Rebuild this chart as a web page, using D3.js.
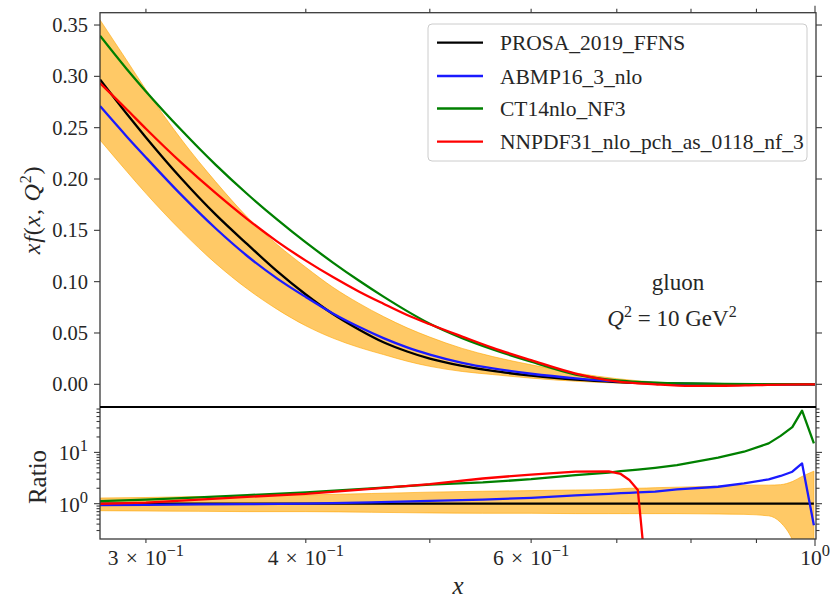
<!DOCTYPE html>
<html><head><meta charset="utf-8">
<script src="https://cdn.jsdelivr.net/npm/d3@7"></script>
<style>
body{margin:0;background:#fff}
text{font-family:"Liberation Serif","Times New Roman",serif;fill:#262626}
</style>
</head><body>
<svg id="c" width="836" height="601"></svg>
<script>
// ---------------- data ----------------
const xTop = [0.2762,0.29,0.30,0.32,0.34,0.36,0.38,0.40,0.42,0.44,0.46,0.48,0.50,0.53,0.56,0.60,0.65,0.70,0.75,0.80,0.85,0.90,0.95,1.0];
const prosa   = [0.297,0.263,0.2405,0.200,0.1655,0.1365,0.110,0.0875,0.0685,0.0535,0.041,0.032,0.025,0.018,0.013,0.0085,0.0045,0.0022,0.0009,0.0003,0.0001,0,0,0];
const prosaHi = [0.355,0.315,0.287,0.238,0.1975,0.163,0.136,0.114,0.0945,0.079,0.066,0.055,0.046,0.035,0.027,0.019,0.011,0.0055,0.0022,0.0008,0.0003,0.0001,0,0];
const prosaLo = [0.238,0.207,0.186,0.149,0.118,0.093,0.073,0.057,0.045,0.036,0.029,0.0225,0.0175,0.0125,0.0095,0.006,0.003,0.0012,0.0004,0.0001,0,0,0,0];
const abmp    = [0.271,0.241,0.221,0.184,0.152,0.125,0.103,0.085,0.069,0.056,0.045,0.036,0.029,0.021,0.0155,0.0103,0.0058,0.0028,0.0012,0.0005,0.0002,0.0001,0,0];
const ct14    = [0.3396,0.3067,0.2853,0.2472,0.2140,0.1854,0.1604,0.1382,0.1186,0.1011,0.0854,0.0713,0.059,0.045,0.034,0.022,0.0095,0.0038,0.0016,0.0008,0.0004,0.0002,0.0001,0];
const nnpdf   = [0.2935,0.2675,0.249,0.2155,0.1865,0.161,0.139,0.1205,0.1045,0.0905,0.0785,0.0675,0.0585,0.0465,0.0355,0.0235,0.0105,0.0028,0.0,-0.0015,-0.0014,-0.0008,-0.0003,0];

const xRatio = [0.2762,0.30,0.33,0.36,0.40,0.45,0.50,0.55,0.60,0.65,0.69,0.705,0.716,0.727,0.75,0.78,0.84,0.88,0.92,0.94,0.96,0.977,0.998];
const ratioProsa = [1,1,1,1,1,1,1,1,1,1,1,1,1,1,1,1,1,1,1,1,1,1,1];
const ratioHi = [1.29,1.32,1.38,1.42,1.48,1.58,1.68,1.75,1.8,1.85,1.9,1.95,2.0,2.0,2.05,2.1,2.2,2.3,2.3,2.35,2.7,3.4,4.3];
const ratioLo = [0.73,0.72,0.71,0.70,0.70,0.68,0.66,0.65,0.65,0.64,0.64,0.64,0.64,0.64,0.64,0.64,0.63,0.62,0.58,0.43,0.2,0.06,0.03];
const ratioAbmp = [0.94,0.95,0.97,0.98,1.0,1.06,1.13,1.2,1.3,1.45,1.55,1.6,1.63,1.66,1.72,1.9,2.14,2.5,2.99,3.47,4.2,6.1,0.38];
const ratioCt14 = [1.12,1.2,1.33,1.47,1.66,1.98,2.35,2.6,3.0,3.6,4.05,4.3,4.45,4.6,5.0,5.66,7.9,10.3,15,21,31,65,15];
const ratioNnpdf = [0.99,1.05,1.2,1.36,1.55,1.95,2.4,3.1,3.7,4.2,4.25,3.8,2.9,1.85,0.0006,null,null,null,null,null,null,null,null];

const seriesNames = ["PROSA_2019_FFNS","ABMP16_3_nlo","CT14nlo_NF3","NNPDF31_nlo_pch_as_0118_nf_3"];
const seriesColors = ["#000000","#1a1aff","#008000","#ff0000"];
const yTopTicks = [0,0.05,0.10,0.15,0.20,0.25,0.30,0.35];
const xLabelled = [{v:0.3,b:"3\u2004×\u200410",e:"−1"},{v:0.4,b:"4\u2004×\u200410",e:"−1"},{v:0.6,b:"6\u2004×\u200410",e:"−1"},{v:1,b:"10",e:"0"}];
const xMinorTicks = [0.3,0.4,0.5,0.6,0.7,0.8,0.9];
const xMajorTicks = [1];
const ratioMajor = [{v:1,e:"0"},{v:10,e:"1"}];
const ratioMinor = [0.3,0.4,0.5,0.6,0.7,0.8,0.9,2,3,4,5,6,7,8,9,20,30,40,50,60,70];

// ---------------- layout ----------------
const L=100,R=816,T=12.7,MID=407,B=539;
const svg=d3.select("#c");
const x=d3.scaleLog().domain([0.2762,1.0018]).range([L,R]);
const yTop=d3.scaleLinear().domain([-0.0221,0.362]).range([MID,T]);
const yRat=d3.scaleLog().domain([0.205,76.7]).range([B,MID]);
const axisCol="#3a3a3a";

const defs=svg.append("defs");
defs.append("clipPath").attr("id","cTop").append("rect").attr("x",L).attr("y",T).attr("width",R-L).attr("height",MID-T);
defs.append("clipPath").attr("id","cBot").append("rect").attr("x",L).attr("y",MID).attr("width",R-L).attr("height",B-MID);

// ---------------- top panel ----------------
const gTop=svg.append("g").attr("clip-path","url(#cTop)");
const topIdx=d3.range(xTop.length);
gTop.append("path")
  .attr("d",d3.area().x(i=>x(xTop[i])).y0(i=>yTop(prosaLo[i])).y1(i=>yTop(prosaHi[i])).curve(d3.curveMonotoneX)(topIdx))
  .attr("fill","#ffa500").attr("fill-opacity",0.6).attr("stroke","#ffa500").attr("stroke-opacity",0.6).attr("stroke-width",1);
[prosa,abmp,ct14,nnpdf].forEach((s,k)=>{
  gTop.append("path")
    .attr("d",d3.line().x(i=>x(xTop[i])).y(i=>yTop(s[i])).curve(d3.curveMonotoneX)(topIdx))
    .attr("fill","none").attr("stroke",seriesColors[k]).attr("stroke-width",2.3);
});

// ---------------- ratio panel ----------------
const gBot=svg.append("g").attr("clip-path","url(#cBot)");
const rIdx=d3.range(xRatio.length);
gBot.append("path")
  .attr("d",d3.area().x(i=>x(xRatio[i])).y0(i=>yRat(ratioLo[i])).y1(i=>yRat(ratioHi[i])).curve(d3.curveMonotoneX)(rIdx))
  .attr("fill","#ffa500").attr("fill-opacity",0.6).attr("stroke","#ffa500").attr("stroke-opacity",0.6).attr("stroke-width",1);
[ratioProsa,ratioAbmp,ratioCt14,ratioNnpdf].forEach((s,k)=>{
  gBot.append("path")
    .attr("d",d3.line().defined(i=>s[i]!==null).x(i=>x(xRatio[i])).y(i=>yRat(s[i]))(rIdx))
    .attr("fill","none").attr("stroke",seriesColors[k]).attr("stroke-width",2.3).attr("stroke-linejoin","round");
});

// ---------------- frames ----------------
svg.append("rect").attr("x",L).attr("y",T).attr("width",R-L).attr("height",B-T)
  .attr("fill","none").attr("stroke",axisCol).attr("stroke-width",1.3);
svg.append("line").attr("x1",L).attr("x2",R).attr("y1",MID).attr("y2",MID).attr("stroke","#000").attr("stroke-width",2);

const gAx=svg.append("g").attr("stroke",axisCol).attr("stroke-width",1.1);
function tick(x1,y1,x2,y2){gAx.append("line").attr("x1",x1).attr("y1",y1).attr("x2",x2).attr("y2",y2);}

xMinorTicks.forEach(v=>{tick(x(v),T,x(v),T-4);tick(x(v),B,x(v),B+4);});
xMajorTicks.forEach(v=>{tick(x(v),T,x(v),T-7);tick(x(v),B,x(v),B+7);});
yTopTicks.forEach(v=>{tick(L,yTop(v),L-6,yTop(v));tick(R,yTop(v),R+6,yTop(v));});
ratioMajor.forEach(d=>{tick(L,yRat(d.v),L-6,yRat(d.v));tick(R,yRat(d.v),R+6,yRat(d.v));});
ratioMinor.forEach(v=>{tick(L,yRat(v),L-3.5,yRat(v));tick(R,yRat(v),R+3.5,yRat(v));});

// tick labels
const gLab=svg.append("g").attr("font-size",20.5);
yTopTicks.forEach(v=>{
  gLab.append("text").attr("x",L-12).attr("y",yTop(v)).attr("dy","0.34em").attr("text-anchor","end").text(d3.format(".2f")(v));
});
function powLabel(g,px,py,anchor,base,exp,fs){
  const t=g.append("text").attr("x",px).attr("y",py).attr("text-anchor",anchor).attr("font-size",fs);
  t.append("tspan").text(base);
  t.append("tspan").attr("dy",-9).attr("font-size",16.5).text(exp);
  return t;
}
xLabelled.forEach(d=>powLabel(gLab,x(d.v),565,"middle",d.b,d.e,21.5));
ratioMajor.forEach(d=>powLabel(gLab,L-12,yRat(d.v)+8,"end","10",d.e,21));

// axis labels
const yl=svg.append("text").attr("transform","translate(40,210) rotate(-90)").attr("text-anchor","middle").attr("font-size",24).attr("letter-spacing",0.8);
yl.append("tspan").attr("font-style","italic").text("xf");
yl.append("tspan").text("(");
yl.append("tspan").attr("font-style","italic").text("x");
yl.append("tspan").text(", ");
yl.append("tspan").attr("font-style","italic").text("Q");
yl.append("tspan").attr("dy",-9).attr("font-size",16).text("2");
yl.append("tspan").attr("dy",9).text(")");

svg.append("text").attr("transform","translate(46,477) rotate(-90)").attr("text-anchor","middle").attr("font-size",25).text("Ratio");
svg.append("text").attr("x",(L+R)/2).attr("y",594).attr("text-anchor","middle").attr("font-size",25).attr("font-style","italic").text("x");

// annotations
svg.append("text").attr("x",678).attr("y",290).attr("text-anchor","middle").attr("font-size",23).text("gluon");
const q=svg.append("text").attr("x",672).attr("y",326).attr("text-anchor","middle").attr("font-size",23);
q.append("tspan").attr("font-style","italic").text("Q");
q.append("tspan").attr("dy",-9).attr("font-size",16).text("2");
q.append("tspan").attr("dy",9).text(" = 10 GeV");
q.append("tspan").attr("dy",-9).attr("font-size",16).text("2");

// legend
const lg=svg.append("g");
lg.append("rect").attr("x",428).attr("y",24).attr("width",379).attr("height",137).attr("rx",4)
  .attr("fill","#fff").attr("fill-opacity",0.8).attr("stroke","#cccccc").attr("stroke-width",1);
const rowY=[42.7,76,108.5,141.7];
seriesNames.forEach((n,k)=>{
  lg.append("line").attr("x1",437).attr("x2",483).attr("y1",rowY[k]).attr("y2",rowY[k]).attr("stroke",seriesColors[k]).attr("stroke-width",2.3);
  lg.append("text").attr("x",500).attr("y",rowY[k]).attr("dy","0.35em").attr("font-size",21.5).text(n);
});
</script>
</body></html>
